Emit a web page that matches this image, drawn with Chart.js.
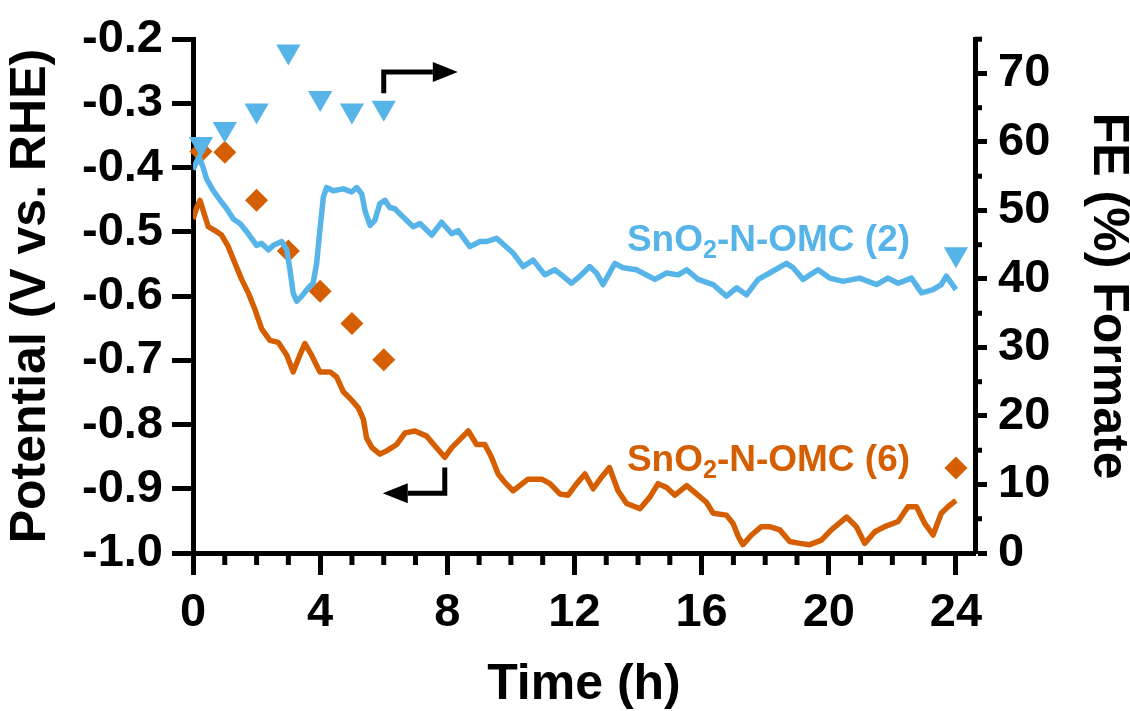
<!DOCTYPE html>
<html lang="en">
<head>
  <meta charset="UTF-8">
  <title>Potential and formate FE over 24 h</title>
  <script src="https://cdn.jsdelivr.net/npm/chart.js"></script>
  <style>
    body { margin: 0; background: #fff; }
  </style>
</head>
<body>
  <canvas id="stabilityChart" width="1130" height="711"></canvas>

  <script>
    // potential traces (h, V vs. RHE)
    const timeN2 = [0, 0.19, 0.32, 0.43, 0.64, 0.9, 1.06, 1.27, 1.48, 1.74, 2.0, 2.16, 2.37, 2.53, 2.79, 2.95, 3.05, 3.15, 3.26, 3.42,
      3.63, 3.78, 3.89, 3.99, 4.1, 4.2, 4.41, 4.73, 4.99, 5.15, 5.31, 5.41, 5.57, 5.72, 5.88, 6.04, 6.19, 6.35, 6.61, 6.93,
      7.14, 7.51, 7.82, 8.14, 8.34, 8.71, 9.03, 9.24, 9.55, 10.07, 10.39, 10.7, 11.07, 11.38, 11.59, 11.91, 12.17, 12.48, 12.69, 12.9,
      13.27, 13.53, 13.95, 14.53, 14.9, 15.26, 15.53, 15.89, 16.36, 16.78, 17.1, 17.41, 17.78, 18.14, 18.67, 18.88, 19.19, 19.66, 20.03, 20.45,
      20.97, 21.5, 21.86, 22.18, 22.6, 22.92, 23.28, 23.54, 23.7, 24.0];
    const potentialN2 = [-0.403, -0.383, -0.4, -0.418, -0.436, -0.454, -0.464, -0.48, -0.487, -0.503, -0.521, -0.518, -0.528, -0.521, -0.515, -0.528, -0.559, -0.595, -0.608, -0.6,
      -0.587, -0.58, -0.549, -0.498, -0.446, -0.431, -0.436, -0.433, -0.438, -0.431, -0.441, -0.467, -0.49, -0.482, -0.456, -0.451, -0.462, -0.464, -0.477, -0.492,
      -0.487, -0.505, -0.485, -0.503, -0.498, -0.523, -0.515, -0.515, -0.51, -0.533, -0.554, -0.544, -0.567, -0.559, -0.567, -0.58, -0.569, -0.554, -0.564, -0.582,
      -0.549, -0.556, -0.559, -0.574, -0.564, -0.567, -0.559, -0.574, -0.582, -0.6, -0.587, -0.598, -0.574, -0.564, -0.549, -0.556, -0.574, -0.559, -0.572, -0.577,
      -0.572, -0.582, -0.572, -0.58, -0.572, -0.595, -0.59, -0.582, -0.569, -0.59];

    const timeN6 = [0, 0.12, 0.22, 0.32, 0.48, 0.69, 0.9, 1.11, 1.32, 1.53, 1.74, 1.95, 2.16, 2.42, 2.68, 2.95, 3.15, 3.36, 3.52, 3.73,
      3.99, 4.31, 4.52, 4.73, 4.99, 5.2, 5.36, 5.46, 5.63, 5.88, 6.09, 6.41, 6.67, 6.98, 7.35, 7.66, 7.92, 8.14, 8.4, 8.66,
      8.92, 9.18, 9.39, 9.6, 9.81, 10.07, 10.28, 10.54, 10.97, 11.23, 11.54, 11.8, 12.07, 12.33, 12.59, 12.85, 13.1, 13.37, 13.64, 14.06,
      14.37, 14.63, 14.9, 15.16, 15.53, 15.84, 16.15, 16.36, 16.78, 16.99, 17.15, 17.3, 17.57, 17.88, 18.14, 18.46, 18.77, 19.09, 19.4, 19.77,
      20.08, 20.56, 20.87, 21.13, 21.45, 21.76, 22.18, 22.49, 22.76, 23.02, 23.28, 23.54, 23.75, 24.0];
    const potentialN6 = [-0.48, -0.462, -0.451, -0.467, -0.492, -0.498, -0.505, -0.523, -0.549, -0.574, -0.595, -0.621, -0.651, -0.669, -0.672, -0.692, -0.718, -0.692, -0.674, -0.692,
      -0.718, -0.718, -0.726, -0.749, -0.762, -0.774, -0.792, -0.821, -0.836, -0.846, -0.841, -0.831, -0.813, -0.81, -0.818, -0.836, -0.851, -0.836, -0.823, -0.81,
      -0.831, -0.831, -0.851, -0.877, -0.89, -0.903, -0.895, -0.885, -0.885, -0.892, -0.908, -0.91, -0.892, -0.877, -0.9, -0.882, -0.867, -0.903, -0.923, -0.931,
      -0.913, -0.892, -0.898, -0.91, -0.895, -0.908, -0.921, -0.938, -0.941, -0.954, -0.974, -0.987, -0.972, -0.959, -0.959, -0.964, -0.982, -0.985, -0.987, -0.98,
      -0.964, -0.944, -0.959, -0.985, -0.967, -0.959, -0.951, -0.928, -0.928, -0.954, -0.972, -0.938, -0.928, -0.918];

    // formate faradaic efficiency (%)
    const feTimes = [0.25, 1, 2, 3, 4, 5, 6, 24];
    const feN2 = [59.7, 61.9, 64.6, 73.2, 66.4, 64.6, 65.0, 43.6];
    const feN6 = [58.6, 58.5, 51.5, 44.1, 38.2, 33.5, 28.2, 12.4];

    // ticks
    const timeTicks = [0, 4, 8, 12, 16, 20, 24];
    const timeMinorTicks = [1, 2, 3, 5, 6, 7, 9, 10, 11, 13, 14, 15, 17, 18, 19, 21, 22, 23];
    const potentialTicks = [-1.0, -0.9, -0.8, -0.7, -0.6, -0.5, -0.4, -0.3, -0.2];
    const feTicks = [0, 10, 20, 30, 40, 50, 60, 70];
    const feMinorTicks = [5, 15, 25, 35, 45, 55, 65, 75];

    const BLUE = '#56B4E9';
    const ORANGE = '#D55E00';
    const FAMILY = '"Liberation Sans", Arial, Helvetica, sans-serif';

    function points(xs, ys) {
      return xs.map((x, i) => ({ x: x, y: ys[i] }));
    }

    function drawSample(ctx, x, y, n, color) {
      ctx.fillStyle = color;
      ctx.textAlign = 'left';
      ctx.textBaseline = 'alphabetic';
      ctx.font = 'bold 37px ' + FAMILY;
      ctx.fillText('SnO', x, y);
      let w = ctx.measureText('SnO').width;
      ctx.font = 'bold 25px ' + FAMILY;
      ctx.fillText('2', x + w, y + 7);
      w += ctx.measureText('2').width;
      ctx.font = 'bold 37px ' + FAMILY;
      ctx.fillText('-N-OMC (' + n + ')', x + w, y);
    }

    // elbow arrow: start -> corner -> tip, arrowhead at tip (horizontal)
    function drawArrow(ctx, sx, sy, cx, cy, tx) {
      const dir = tx > cx ? 1 : -1;
      const head = 25;
      ctx.strokeStyle = '#000';
      ctx.fillStyle = '#000';
      ctx.lineWidth = 5;
      ctx.lineJoin = 'miter';
      ctx.beginPath();
      ctx.moveTo(sx, sy);
      ctx.lineTo(cx, cy);
      ctx.lineTo(tx - dir * head, cy);
      ctx.stroke();
      ctx.beginPath();
      ctx.moveTo(tx, cy);
      ctx.lineTo(tx - dir * head, cy - 10);
      ctx.lineTo(tx - dir * head, cy + 10);
      ctx.closePath();
      ctx.fill();
    }

    const annotations = {
      id: 'annotations',
      afterDatasetsDraw(chart) {
        const { ctx, scales } = chart;
        const x = scales.x, y = scales.y;
        ctx.save();
        drawSample(ctx, x.getPixelForValue(13.65), y.getPixelForValue(-0.529), 2, BLUE);
        drawSample(ctx, x.getPixelForValue(13.65), y.getPixelForValue(-0.872), 6, ORANGE);
        drawArrow(ctx, x.getPixelForValue(6), y.getPixelForValue(-0.284),
          x.getPixelForValue(6), y.getPixelForValue(-0.251), x.getPixelForValue(8.33));
        drawArrow(ctx, x.getPixelForValue(7.92), y.getPixelForValue(-0.867),
          x.getPixelForValue(7.92), y.getPixelForValue(-0.907), x.getPixelForValue(5.97));
        ctx.restore();
      }
    };

    // minor ticks (Chart.js linear scales have no minor ticks)
    const minorTicks = {
      id: 'minorTicks',
      afterDraw(chart) {
        const { ctx, chartArea, scales } = chart;
        ctx.save();
        ctx.strokeStyle = '#000';
        ctx.lineWidth = 5;
        timeMinorTicks.forEach(t => {
          const px = scales.x.getPixelForValue(t);
          ctx.beginPath();
          ctx.moveTo(px, chartArea.bottom);
          ctx.lineTo(px, chartArea.bottom + 12);
          ctx.stroke();
        });
        feMinorTicks.forEach(v => {
          const py = scales.fe.getPixelForValue(v);
          ctx.beginPath();
          ctx.moveTo(chartArea.right, py);
          ctx.lineTo(chartArea.right + 7, py);
          ctx.stroke();
        });
        ctx.restore();
      }
    };

    const tickFont = { family: FAMILY, size: 47, weight: 'bold' };
    const axisGrid = len => ({ drawOnChartArea: false, drawTicks: true, tickLength: len, tickWidth: 5, tickColor: '#000' });
    const axisBorder = { display: true, color: '#000', width: 5 };

    new Chart(document.getElementById('stabilityChart'), {
      type: 'scatter',
      data: {
        datasets: [
          {
            label: 'FE SnO2-N-OMC (2)',
            data: points(feTimes, feN2),
            yAxisID: 'fe',
            pointStyle: 'triangle',
            pointRotation: 180,
            pointRadius: 14,
            pointBorderWidth: 0,
            pointBackgroundColor: BLUE,
            clip: false
          },
          {
            label: 'SnO2-N-OMC (2)',
            data: points(timeN2, potentialN2),
            yAxisID: 'y',
            showLine: true,
            pointRadius: 0,
            borderColor: BLUE,
            borderWidth: 5.5,
            borderJoinStyle: 'round',
            tension: 0
          },
          {
            label: 'FE SnO2-N-OMC (6)',
            data: points(feTimes, feN6),
            yAxisID: 'fe',
            pointStyle: 'rectRot',
            pointRadius: 11.5,
            pointBorderWidth: 0,
            pointBackgroundColor: ORANGE,
            clip: false
          },
          {
            label: 'SnO2-N-OMC (6)',
            data: points(timeN6, potentialN6),
            yAxisID: 'y',
            showLine: true,
            pointRadius: 0,
            borderColor: ORANGE,
            borderWidth: 5.5,
            borderJoinStyle: 'round',
            tension: 0
          }
        ]
      },
      options: {
        responsive: false,
        animation: false,
        events: [],
        layout: { padding: { top: 33, right: 0, bottom: 0, left: 0 } },
        plugins: {
          legend: { display: false },
          tooltip: { enabled: false }
        },
        scales: {
          x: {
            type: 'linear',
            min: 0,
            max: 24.6,
            afterBuildTicks: s => { s.ticks = timeTicks.map(v => ({ value: v })); },
            afterFit: s => { s.height = 158; },
            grid: axisGrid(22),
            border: axisBorder,
            ticks: { color: '#000', font: tickFont, padding: 10, maxRotation: 0, autoSkip: false, callback: v => String(v) },
            title: { display: true, text: 'Time (h)', color: '#000', padding: 0,
              font: { family: FAMILY, size: 50, weight: 'bold', lineHeight: 1.02 } }
          },
          y: {
            type: 'linear',
            position: 'left',
            min: -1.0,
            max: -0.2,
            afterBuildTicks: s => { s.ticks = potentialTicks.map(v => ({ value: v })); },
            afterFit: s => { s.width = 193; },
            grid: axisGrid(21),
            border: axisBorder,
            ticks: { color: '#000', font: tickFont, padding: 9, callback: v => v.toFixed(1) },
            title: { display: true, text: 'Potential (V vs. RHE)', color: '#000', padding: 0,
              font: { family: FAMILY, size: 50, weight: 'bold', lineHeight: 1.24 } }
          },
          fe: {
            type: 'linear',
            position: 'right',
            min: 0,
            max: 75,
            afterBuildTicks: s => { s.ticks = feTicks.map(v => ({ value: v })); },
            afterFit: s => { s.width = 155; },
            grid: axisGrid(12),
            border: axisBorder,
            ticks: { color: '#000', font: tickFont, padding: 11, callback: v => String(v) },
            title: { display: true, text: 'FE (%) Formate', color: '#000', padding: 0,
              font: { family: FAMILY, size: 50, weight: 'bold', lineHeight: 0.88 } }
          }
        }
      },
      plugins: [annotations, minorTicks]
    });
  </script>
</body>
</html>
